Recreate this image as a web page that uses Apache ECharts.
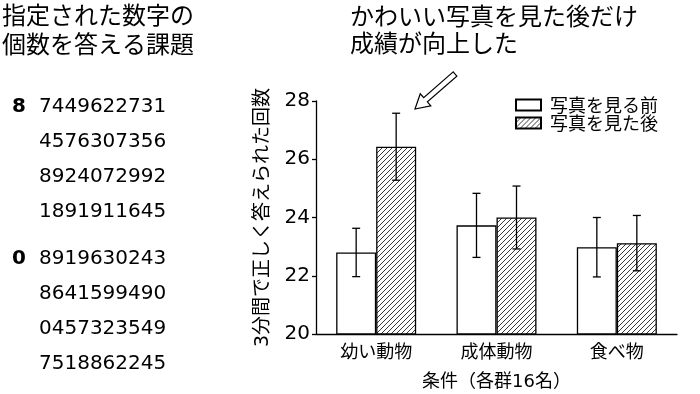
<!DOCTYPE html>
<html><head><meta charset="utf-8">
<script src="https://cdn.jsdelivr.net/npm/echarts@6/dist/echarts.min.js"></script>
<style>html,body{margin:0;padding:0;background:#fff}#c{width:700px;height:394px}</style>
</head><body><div id="c"></div>
<script>
const categories = ['幼い動物', '成体動物', '食べ物'];
const seriesNames = ['写真を見る前', '写真を見た後'];
const beforeVals = [22.8, 23.73, 22.98];
const afterVals = [26.43, 24.0, 23.12];
const beforeErr = [0.83, 1.1, 1.02];
const afterErr = [1.15, 1.08, 0.95];
const yTicks = [20, 22, 24, 26, 28];
const digitRows8 = ['7449622731', '4576307356', '8924072992', '1891911645'];
const digitRows0 = ['8919630243', '8641599490', '0457323549', '7518862245'];
const titleLines = ['指定された数字の', '個数を答える課題'];
const noteLines = ['かわいい写真を見た後だけ', '成績が向上した'];

const JP = '"Noto Sans CJK JP", sans-serif';
const NUM = '"DejaVu Sans", "Noto Sans CJK JP", sans-serif';

// hatch pattern
const pc = document.createElement('canvas');
pc.width = 5; pc.height = 5;
const g = pc.getContext('2d');
g.fillStyle = '#fff'; g.fillRect(0, 0, 5, 5);
g.strokeStyle = '#222'; g.lineWidth = 0.9;
g.beginPath();
g.moveTo(-1, 6); g.lineTo(6, -1);
g.moveTo(-1, 1); g.lineTo(1, -1);
g.moveTo(4, 6); g.lineTo(6, 4);
g.stroke();
const hatch = { image: pc, repeat: 'repeat' };

const chart = echarts.init(document.getElementById('c'), null, { renderer: 'canvas' });

function errSeries(vals, errs, offset) {
  return {
    type: 'custom',
    z: 5,
    silent: true,
    data: vals.map((v, i) => [i, v - errs[i], v + errs[i]]),
    encode: { x: 0, y: [1, 2] },
    renderItem: function (params, api) {
      const lo = api.coord([api.value(0), api.value(1)]);
      const hi = api.coord([api.value(0), api.value(2)]);
      const x = lo[0] + offset;
      const cap = 4;
      const st = { stroke: '#000', lineWidth: 1.3 };
      return {
        type: 'group',
        children: [
          { type: 'line', shape: { x1: x, y1: lo[1], x2: x, y2: hi[1] }, style: st },
          { type: 'line', shape: { x1: x - cap, y1: hi[1], x2: x + cap, y2: hi[1] }, style: st },
          { type: 'line', shape: { x1: x - cap, y1: lo[1], x2: x + cap, y2: lo[1] }, style: st }
        ]
      };
    }
  };
}

// graphic texts
const graphics = [];
titleLines.forEach((t, i) => graphics.push({
  type: 'text', left: 2, top: [3, 32][i],
  style: { text: t, font: '24px ' + JP, fill: '#000' }
}));
noteLines.forEach((t, i) => graphics.push({
  type: 'text', left: 350, top: [4, 31][i],
  style: { text: t, font: '24px ' + JP, fill: '#000' }
}));
const rows8y = [107, 142, 177, 212];
const rows0y = [259, 294, 329, 363.5];
graphics.push({ type: 'text', x: 12, y: rows8y[0], style: { text: '8', font: 'bold 20px ' + NUM, fill: '#000', textVerticalAlign: 'middle' } });
graphics.push({ type: 'text', x: 12, y: rows0y[0], style: { text: '0', font: 'bold 20px ' + NUM, fill: '#000', textVerticalAlign: 'middle' } });
digitRows8.forEach((t, i) => graphics.push({ type: 'text', x: 39, y: rows8y[i], style: { text: t, font: '20px ' + NUM, fill: '#000', textVerticalAlign: 'middle' } }));
digitRows0.forEach((t, i) => graphics.push({ type: 'text', x: 39, y: rows0y[i], style: { text: t, font: '20px ' + NUM, fill: '#000', textVerticalAlign: 'middle' } }));

// hollow arrow
(function () {
  const tail = [455, 74], tip = [415, 109];
  const dx = tip[0] - tail[0], dy = tip[1] - tail[1];
  const L = Math.hypot(dx, dy);
  const ux = dx / L, uy = dy / L, nx = -uy, ny = ux;
  const hw = 2.8, hh = 8, hl = 14;
  const nk = [tip[0] - ux * hl, tip[1] - uy * hl];
  const pts = [
    [tail[0] + nx * hw, tail[1] + ny * hw],
    [nk[0] + nx * hw, nk[1] + ny * hw],
    [nk[0] + nx * hh, nk[1] + ny * hh],
    tip,
    [nk[0] - nx * hh, nk[1] - ny * hh],
    [nk[0] - nx * hw, nk[1] - ny * hw],
    [tail[0] - nx * hw, tail[1] - ny * hw]
  ];
  graphics.push({ type: 'polygon', shape: { points: pts }, style: { fill: '#fff', stroke: '#000', lineWidth: 1.2 } });
})();

chart.setOption({
  animation: false,
  backgroundColor: '#fff',
  textStyle: { fontFamily: JP, color: '#000' },
  grid: { left: 316, right: 23, top: 101, bottom: 60, containLabel: false, outerBoundsMode: 'none' },
  legend: {
    orient: 'vertical', left: 510, top: 91,
    itemWidth: 25, itemHeight: 11, itemGap: 0,
    icon: 'rect',
    textStyle: { fontSize: 18, lineHeight: 18, fontFamily: JP, color: '#000', padding: [0, 0, 0, 4] },
    data: seriesNames
  },
  xAxis: {
    type: 'category', data: categories,
    axisLine: { lineStyle: { color: '#000', width: 1.3 } },
    axisTick: { show: false },
    axisLabel: { fontSize: 18, color: '#000', margin: 8, fontFamily: JP },
    name: '条件（各群16名）', nameLocation: 'middle', nameGap: 39,
    nameTextStyle: { fontSize: 18, color: '#000', fontFamily: NUM }
  },
  yAxis: {
    type: 'value', min: yTicks[0], max: yTicks[yTicks.length - 1], interval: 2,
    axisLine: { show: true, lineStyle: { color: '#000', width: 1.3 } },
    axisTick: { show: true, length: 4, lineStyle: { color: '#000', width: 1.3 } },
    splitLine: { show: false },
    axisLabel: { fontSize: 20, color: '#000', margin: 6, fontFamily: NUM },
    name: '3分間で正しく答えられた回数', nameLocation: 'middle', nameGap: 43, nameRotate: 90,
    nameTextStyle: { fontSize: 19, color: '#000', fontFamily: NUM }
  },
  series: [
    {
      name: seriesNames[0], type: 'bar', data: beforeVals, barWidth: 40, barGap: '0%',
      itemStyle: { color: '#fff', borderColor: '#000', borderWidth: 1.3 }
    },
    {
      name: seriesNames[1], type: 'bar', data: afterVals, barWidth: 40, barGap: '0%',
      itemStyle: { color: hatch, borderColor: '#000', borderWidth: 1.3 }
    },
    errSeries(beforeVals, beforeErr, -20),
    errSeries(afterVals, afterErr, 20)
  ],
  graphic: graphics
});
</script>
</body></html>
